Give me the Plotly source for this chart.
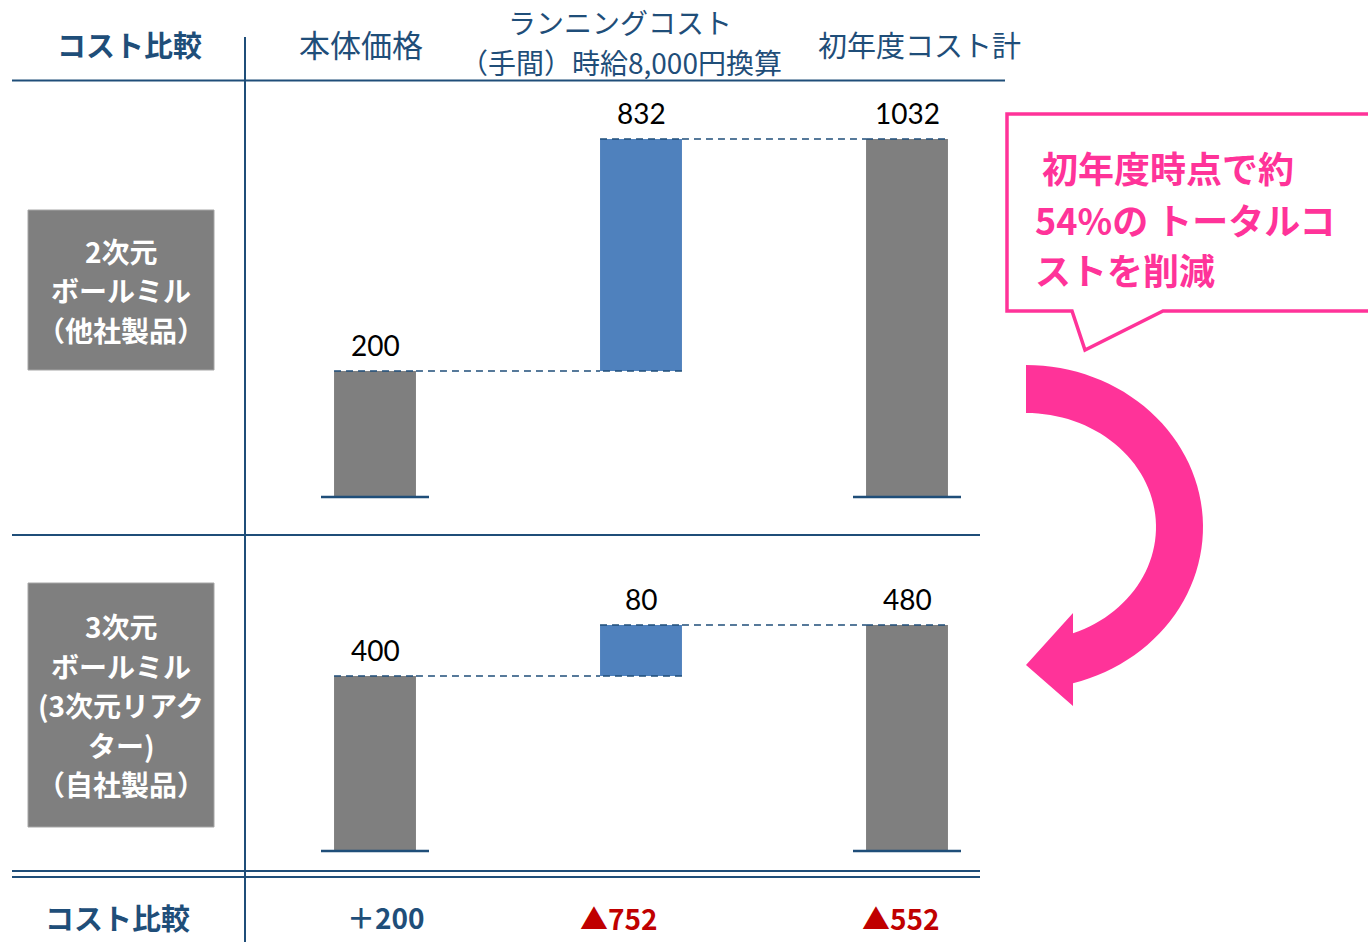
import math
import numpy as np
import plotly.graph_objects as go

# ---------------- data ----------------
categories = ["本体価格", "ランニングコスト", "初年度コスト計"]
header_lines = [["本体価格"], ["ランニングコスト", "（手間）時給8,000円換算"], ["初年度コスト計"]]
products = [["2次元", "ボールミル", "（他社製品）"],
            ["3次元", "ボールミル", "(3次元リアク", "ター)", "（自社製品）"]]
body_price = [200, 400]      # 本体価格
running_cost = [832, 80]     # ランニングコスト
totals = [b + r for b, r in zip(body_price, running_cost)]   # 初年度コスト計
callout_lines = ["初年度時点で約", "54%の トータルコ", "ストを削減"]
row_title = "コスト比較"

# ---------------- style ----------------
W, H = 1368, 942
NAVY = "#1F4E79"
GRAY = "#7F7F7F"
BLUE = "#4F81BD"
PINK = "#FF3399"
RED = "#C00000"
JP = "Noto Sans CJK JP"
NUM = "Lato"


def px(x):
    return x / W


def py(y):
    return 1 - y / H


fig = go.Figure()
axes = [("x", "y"), ("x2", "y2")]
for k, (xa, ya) in enumerate(axes):
    fig.add_trace(go.Waterfall(
        x=categories,
        y=[body_price[k], running_cost[k], totals[k]],
        measure=["absolute", "relative", "total"],
        xaxis=xa, yaxis=ya,
        totals=dict(marker=dict(color=GRAY, line=dict(width=0))),
        increasing=dict(marker=dict(color=BLUE, line=dict(width=0))),
        decreasing=dict(marker=dict(color=BLUE, line=dict(width=0))),
        connector=dict(mode="spanning", line=dict(color=NAVY, width=1.5, dash="7px,5px")),
        textposition="none",
        hoverinfo="skip",
        showlegend=False,
    ))

xdom = [px(242), px(1040)]
# axis pixel calibration (log axes, per panel)
top_ppd = (371 - 139) / math.log10(totals[0] / body_price[0])
top_lo = math.log10(body_price[0]) - (497 - 371) / top_ppd
top_hi = top_lo + (497 - 80) / top_ppd
bot_ppd = (676 - 625) / math.log10(totals[1] / body_price[1])
bot_lo = math.log10(body_price[1]) - (851 - 676) / bot_ppd
bot_hi = bot_lo + (851 - 560) / bot_ppd

hidden = dict(showgrid=False, zeroline=False, showticklabels=False, showline=False, ticks="")
fig.update_layout(
    width=W, height=H,
    margin=dict(l=0, r=0, t=0, b=0),
    paper_bgcolor="white", plot_bgcolor="rgba(0,0,0,0)",
    waterfallgap=0.692,
    xaxis=dict(domain=xdom, range=[-0.5, 2.5], type="category", anchor="y", **hidden),
    xaxis2=dict(domain=xdom, range=[-0.5, 2.5], type="category", anchor="y2", **hidden),
    yaxis=dict(type="log", domain=[py(497), py(80)], range=[top_lo, top_hi], anchor="x", **hidden),
    yaxis2=dict(type="log", domain=[py(851), py(560)], range=[bot_lo, bot_hi], anchor="x2", **hidden),
)

shapes = []


def hline(y, x0, x1, w=2):
    shapes.append(dict(type="line", xref="paper", yref="paper", x0=px(x0), x1=px(x1),
                       y0=py(y), y1=py(y), line=dict(color=NAVY, width=w)))


hline(80.5, 12, 1005)
hline(535, 12, 980)
hline(871, 12, 980)
hline(877, 12, 980)
shapes.append(dict(type="line", xref="paper", yref="paper", x0=px(245), x1=px(245),
                   y0=py(37), y1=py(942), line=dict(color=NAVY, width=2)))

# base lines under gray bars
for xa, ya in axes:
    for i in (0, 2):
        shapes.append(dict(type="line", xref=xa, yref=f"{ya} domain", x0=i - 0.203, x1=i + 0.203,
                           y0=0, y1=0, line=dict(color=NAVY, width=2.5)))

# product boxes
boxes = [(210, 370), (583, 827)]
for (y0, y1) in boxes:
    shapes.append(dict(type="rect", xref="paper", yref="paper", x0=px(28), x1=px(214),
                       y0=py(y1), y1=py(y0), fillcolor=GRAY, line=dict(color="#A6A6A6", width=1)))

# callout box
cpts = [(1007, 114), (1380, 114), (1380, 311), (1163, 311), (1085, 350), (1072, 311), (1007, 311)]
cpath = "M " + " L ".join(f"{px(x):.5f},{py(y):.5f}" for x, y in cpts) + " Z"
shapes.append(dict(type="path", xref="paper", yref="paper", path=cpath,
                   line=dict(color=PINK, width=3.5), fillcolor="rgba(255,255,255,0)"))

# curved arrow
cx, cy = 1026, 527
t_out = np.linspace(-math.pi / 2, math.acos(47 / 177), 60)
t_in = np.linspace(math.acos(47 / 130), -math.pi / 2, 60)
pts = [(cx + 177 * math.cos(t), cy + 162 * math.sin(t)) for t in t_out]
pts += [(1073, 706), (1026, 665), (1073, 613)]
pts += [(cx + 130 * math.cos(t), cy + 114 * math.sin(t)) for t in t_in]
apath = "M " + " L ".join(f"{px(x):.5f},{py(y):.5f}" for x, y in pts) + " Z"
shapes.append(dict(type="path", xref="paper", yref="paper", path=apath,
                   line=dict(width=0), fillcolor=PINK))

annotations = []


def txt(x, y, text, size, color, bold=False, family=JP, xanchor="center"):
    annotations.append(dict(xref="paper", yref="paper", x=px(x), y=py(y),
                            text=f"<b>{text}</b>" if bold else text,
                            showarrow=False, xanchor=xanchor, yanchor="middle",
                            font=dict(family=family, size=size, color=color)))


# headers
txt(129, 44, row_title, 29, NAVY, bold=True)
txt(361, 44, header_lines[0][0], 31, NAVY)
txt(620, 22, header_lines[1][0], 28, NAVY)
txt(621, 62, header_lines[1][1], 28, NAVY)
txt(919, 44, header_lines[2][0], 29, NAVY)

# product labels (one line each)
for lines, (y0, y1) in zip(products, boxes):
    step = 39.5
    mid = (y0 + y1) / 2
    start = mid - step * (len(lines) - 1) / 2
    for j, line in enumerate(lines):
        txt(121, start + j * step, line, 28, "white", bold=True)

# callout text
txt(1040, 167, callout_lines[0], 36, PINK, bold=True, xanchor="left")
txt(1033, 219, callout_lines[1], 36, PINK, bold=True, xanchor="left")
txt(1033, 269, callout_lines[2], 36, PINK, bold=True, xanchor="left")

# bar value labels (from data)
for k, (xa, ya) in enumerate(axes):
    tops = [body_price[k], totals[k], totals[k]]
    vals = [body_price[k], running_cost[k], totals[k]]
    for i in range(3):
        annotations.append(dict(xref=xa, yref=ya, x=i, y=math.log10(tops[i]), text=str(vals[i]),
                                showarrow=False, yanchor="middle", yshift=26,
                                font=dict(family=NUM, size=28, color="black")))

# comparison row
txt(117, 917, row_title, 29, NAVY, bold=True)
diffs = [body_price[1] - body_price[0], running_cost[1] - running_cost[0], totals[1] - totals[0]]
row_x = [386, 619, 901]
for d, x in zip(diffs, row_x):
    if d >= 0:
        txt(x, 917, f"＋{d}", 28, NAVY, bold=True)
    else:
        txt(x, 918, f"▲{abs(d)}", 28, RED, bold=True)

fig.update_layout(shapes=shapes, annotations=annotations)
fig.write_html("out.html", config={"displayModeBar": False},
               post_script="document.body.style.margin='0';")
